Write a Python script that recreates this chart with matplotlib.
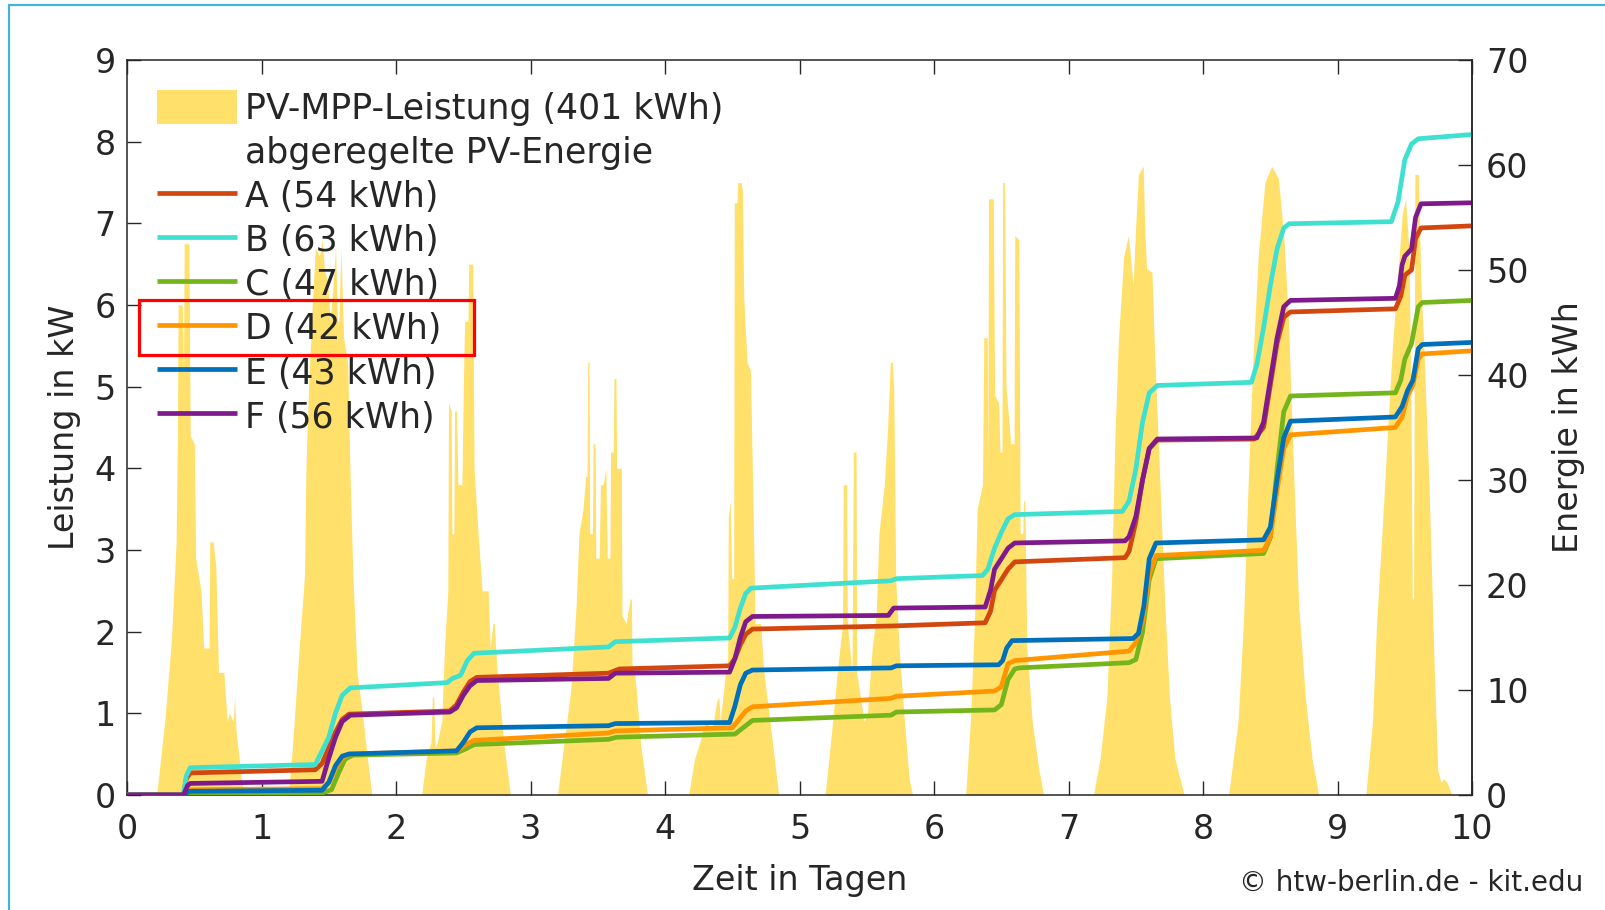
import numpy as np
import matplotlib.pyplot as plt
from matplotlib.patches import Patch, Rectangle
from matplotlib.lines import Line2D

pv_day0 = [(0.22, 0), (0.28, 0.9), (0.33, 1.9), (0.365, 3.1), (0.375, 4.5), (0.38, 6.0), (0.41, 6.0), (0.42, 5.2),
           (0.425, 6.75), (0.46, 6.75), (0.47, 4.4), (0.50, 4.3), (0.51, 2.9), (0.55, 2.5), (0.57, 1.8), (0.61, 1.8),
           (0.615, 3.1), (0.64, 3.1), (0.66, 2.8), (0.68, 1.5), (0.72, 1.5), (0.745, 0.9), (0.76, 1.0), (0.79, 0.9),
           (0.80, 1.2), (0.81, 0.8), (0.85, 0.2), (0.87, 0)]
pv_day1 = [(1.20, 0), (1.23, 0.6), (1.28, 1.8), (1.32, 2.7), (1.33, 4.0), (1.35, 5.0), (1.38, 6.1), (1.40, 6.7),
           (1.43, 6.6), (1.45, 6.8), (1.47, 6.4), (1.49, 6.3), (1.51, 5.8), (1.53, 6.2), (1.55, 6.7), (1.565, 5.8),
           (1.575, 5.8), (1.59, 6.7), (1.61, 5.6), (1.64, 5.3), (1.66, 3.8), (1.68, 2.65), (1.71, 1.5), (1.75, 1.0),
           (1.78, 0.55), (1.82, 0)]
pv_day2 = [(2.19, 0), (2.225, 0.45), (2.26, 0.65), (2.27, 1.2), (2.28, 1.2), (2.29, 0.6), (2.30, 0.6), (2.34, 0.9),
           (2.36, 1.8), (2.385, 2.5), (2.39, 4.8), (2.41, 4.7), (2.415, 3.2), (2.43, 3.2), (2.435, 4.7), (2.45, 4.7),
           (2.46, 3.8), (2.49, 3.8), (2.50, 5.0), (2.51, 5.8), (2.535, 5.8), (2.54, 6.5), (2.57, 6.5), (2.58, 4.0),
           (2.61, 3.2), (2.64, 2.5), (2.685, 2.5), (2.70, 1.8), (2.72, 2.1), (2.73, 2.1), (2.75, 1.55), (2.80, 0.65),
           (2.85, 0)]
pv_day3 = [(3.20, 0), (3.25, 0.65), (3.30, 1.3), (3.34, 2.35), (3.36, 3.2), (3.39, 3.5), (3.41, 3.9), (3.42, 3.9),
           (3.425, 5.3), (3.435, 5.3), (3.44, 3.2), (3.46, 3.2), (3.465, 4.3), (3.48, 4.3), (3.485, 2.9), (3.51, 2.9),
           (3.52, 3.8), (3.54, 3.8), (3.56, 4.0), (3.57, 2.9), (3.59, 2.9), (3.595, 4.2), (3.615, 4.2), (3.62, 5.1),
           (3.635, 5.1), (3.64, 4.0), (3.675, 4.0), (3.68, 2.2), (3.71, 2.1), (3.74, 2.4), (3.75, 2.4), (3.755, 1.5),
           (3.775, 1.5), (3.82, 0.6), (3.87, 0)]
pv_day4 = [(4.175, 0), (4.22, 0.45), (4.26, 0.65), (4.30, 0.9), (4.35, 0.8), (4.385, 1.15), (4.40, 1.2), (4.41, 0.9),
           (4.45, 1.5), (4.465, 1.5), (4.47, 3.4), (4.485, 3.6), (4.495, 2.65), (4.51, 2.65), (4.515, 7.25),
           (4.535, 7.25), (4.54, 7.5), (4.565, 7.5), (4.575, 7.4), (4.585, 6.1), (4.61, 5.3), (4.635, 5.2),
           (4.65, 3.9), (4.67, 2.1), (4.71, 2.1), (4.735, 1.5), (4.78, 0.9), (4.845, 0)]
pv_day5 = [(5.19, 0), (5.24, 0.8), (5.28, 1.5), (5.32, 2.1), (5.325, 3.8), (5.35, 3.8), (5.355, 2.1), (5.39, 1.5),
           (5.40, 4.2), (5.42, 4.2), (5.425, 1.5), (5.48, 0.9), (5.505, 1.0), (5.54, 1.8), (5.57, 2.2), (5.59, 3.2),
           (5.63, 3.8), (5.655, 4.5), (5.675, 5.3), (5.69, 5.3), (5.70, 5.0), (5.715, 2.65), (5.74, 1.8),
           (5.78, 0.9), (5.815, 0.2), (5.84, 0)]
pv_day6 = [(6.235, 0), (6.27, 0.9), (6.30, 2.1), (6.32, 3.5), (6.36, 3.8), (6.37, 5.6), (6.395, 5.6), (6.40, 4.0),
           (6.405, 7.3), (6.44, 7.3), (6.45, 4.9), (6.48, 4.8), (6.49, 4.2), (6.505, 4.2), (6.51, 7.5), (6.525, 7.5),
           (6.535, 5.0), (6.57, 4.3), (6.595, 4.3), (6.60, 6.85), (6.63, 6.8), (6.64, 3.2), (6.66, 3.2),
           (6.665, 3.6), (6.675, 3.6), (6.69, 1.8), (6.73, 0.9), (6.78, 0.3), (6.815, 0)]
pv_day7 = [(7.185, 0), (7.235, 0.45), (7.285, 1.2), (7.32, 2.65), (7.345, 4.4), (7.37, 5.55), (7.41, 6.6),
           (7.445, 6.85), (7.48, 6.25), (7.50, 7.0), (7.52, 7.6), (7.555, 7.7), (7.565, 7.0), (7.58, 6.45),
           (7.62, 6.4), (7.64, 5.4), (7.68, 3.8), (7.715, 2.35), (7.75, 1.2), (7.79, 0.45), (7.86, 0)]
pv_day8 = [(8.19, 0), (8.26, 0.9), (8.30, 2.1), (8.335, 3.8), (8.37, 5.3), (8.41, 6.6), (8.46, 7.5), (8.51, 7.7),
           (8.56, 7.55), (8.60, 6.85), (8.635, 5.8), (8.67, 4.1), (8.71, 2.35), (8.76, 1.2), (8.81, 0.45), (8.86, 0)]
pv_day9 = [(9.21, 0), (9.26, 0.9), (9.29, 2.1), (9.33, 3.2), (9.37, 4.4), (9.41, 5.55), (9.45, 6.4), (9.48, 7.1),
           (9.505, 7.3), (9.53, 6.7), (9.545, 5.0), (9.555, 2.4), (9.565, 2.4), (9.575, 7.6), (9.60, 7.6),
           (9.62, 6.25), (9.64, 5.55), (9.68, 3.8), (9.72, 1.5), (9.745, 0.3), (9.77, 0.15), (9.79, 0.2),
           (9.815, 0.15), (9.85, 0)]

# curtailed PV energy in kWh, (day, kWh)
A_pts = [(0, 0), (0.42, 0), (0.44, 1.5), (0.47, 2.1), (1.40, 2.4), (1.45, 3.0), (1.50, 4.5), (1.55, 6.0), (1.60, 7.2),
         (1.65, 7.7), (2.40, 8.0), (2.45, 8.6), (2.50, 9.8), (2.55, 10.8), (2.60, 11.2), (3.58, 11.6), (3.62, 11.8),
         (3.66, 12.0), (4.48, 12.3), (4.52, 13.0), (4.56, 14.3), (4.60, 15.3), (4.65, 15.8), (5.70, 16.1),
         (6.38, 16.4), (6.42, 17.5), (6.45, 19.5), (6.50, 20.5), (6.55, 21.5), (6.60, 22.2), (7.42, 22.6),
         (7.45, 23.2), (7.50, 26.0), (7.55, 30.0), (7.60, 33.0), (7.66, 33.8), (8.38, 33.9), (8.45, 35.0),
         (8.50, 39.0), (8.55, 43.0), (8.60, 45.5), (8.65, 46.0), (9.43, 46.3), (9.47, 47.5), (9.50, 49.5),
         (9.55, 50.0), (9.58, 53.0), (9.62, 54.0), (10, 54.2)]
B_pts = [(0, 0), (0.42, 0), (0.44, 1.8), (0.47, 2.6), (1.40, 2.9), (1.45, 4.2), (1.50, 5.5), (1.55, 7.8), (1.60, 9.5),
         (1.66, 10.2), (2.38, 10.7), (2.42, 11.1), (2.48, 11.4), (2.53, 12.8), (2.58, 13.5), (3.58, 14.1),
         (3.63, 14.6), (4.48, 14.95), (4.52, 16.0), (4.56, 17.8), (4.60, 19.2), (4.64, 19.7), (5.68, 20.4),
         (5.72, 20.6), (6.36, 20.9), (6.40, 21.5), (6.45, 23.5), (6.50, 25.0), (6.55, 26.3), (6.60, 26.7),
         (7.40, 27.0), (7.45, 28.0), (7.50, 31.0), (7.55, 35.5), (7.60, 38.3), (7.66, 39.0), (8.36, 39.3),
         (8.40, 41.0), (8.45, 44.5), (8.50, 48.5), (8.55, 52.0), (8.60, 54.0), (8.64, 54.4), (9.40, 54.6),
         (9.45, 56.5), (9.50, 60.5), (9.55, 62.0), (9.60, 62.5), (10, 62.9)]
C_pts = [(0, 0), (0.42, 0), (0.47, 0.15), (1.45, 0.2), (1.52, 0.5), (1.57, 2.0), (1.62, 3.4), (1.68, 3.8), (2.45, 4.0),
         (2.52, 4.4), (2.58, 4.8), (3.58, 5.3), (3.64, 5.5), (4.52, 5.8), (4.58, 6.4), (4.65, 7.1), (5.68, 7.6),
         (5.72, 7.9), (6.45, 8.1), (6.50, 8.6), (6.55, 11.0), (6.60, 12.0), (6.63, 12.1), (7.45, 12.6), (7.50, 12.9),
         (7.55, 15.5), (7.60, 20.5), (7.65, 22.5), (8.45, 23.0), (8.50, 24.5), (8.55, 31.0), (8.60, 36.5),
         (8.65, 38.0), (9.43, 38.3), (9.47, 39.5), (9.50, 41.5), (9.55, 43.0), (9.60, 46.5), (9.63, 46.9),
         (10, 47.1)]
D_pts = [(0, 0), (0.42, 0), (0.46, 0.5), (1.45, 0.6), (1.50, 1.2), (1.55, 2.5), (1.60, 3.5), (1.65, 3.9), (2.45, 4.2),
         (2.52, 4.8), (2.58, 5.2), (3.58, 5.9), (3.63, 6.1), (4.50, 6.4), (4.55, 7.2), (4.60, 8.0), (4.65, 8.4),
         (5.68, 9.2), (5.72, 9.4), (6.45, 9.9), (6.50, 10.3), (6.55, 12.5), (6.60, 12.8), (7.45, 13.7), (7.50, 14.5),
         (7.55, 16.5), (7.60, 21.0), (7.65, 22.8), (8.45, 23.3), (8.50, 24.5), (8.55, 29.0), (8.60, 33.0),
         (8.65, 34.3), (9.43, 35.0), (9.48, 36.0), (9.52, 38.0), (9.56, 39.0), (9.60, 41.5), (9.63, 42.0),
         (10, 42.3)]
E_pts = [(0, 0), (0.42, 0), (0.46, 0.35), (1.45, 0.45), (1.50, 1.2), (1.55, 2.8), (1.60, 3.7), (1.65, 3.9),
         (2.45, 4.2), (2.50, 5.0), (2.55, 6.0), (2.60, 6.4), (3.58, 6.6), (3.63, 6.8), (4.48, 6.9), (4.52, 8.5),
         (4.56, 10.5), (4.60, 11.6), (4.65, 11.9), (5.68, 12.1), (5.72, 12.3), (6.48, 12.4), (6.51, 12.8),
         (6.54, 14.0), (6.58, 14.7), (7.48, 14.9), (7.52, 15.4), (7.56, 18.0), (7.60, 22.5), (7.65, 24.0),
         (8.45, 24.3), (8.50, 25.5), (8.55, 30.0), (8.60, 34.0), (8.65, 35.6), (9.43, 36.0), (9.48, 37.0),
         (9.52, 38.5), (9.56, 39.5), (9.60, 42.5), (9.63, 42.9), (10, 43.1)]
F_pts = [(0, 0), (0.42, 0), (0.45, 0.9), (0.47, 1.1), (1.45, 1.3), (1.50, 3.5), (1.55, 5.5), (1.60, 7.0), (1.66, 7.6),
         (2.40, 7.9), (2.45, 8.3), (2.50, 9.5), (2.55, 10.4), (2.60, 10.9), (3.58, 11.1), (3.63, 11.6), (4.48, 11.7),
         (4.52, 13.0), (4.56, 15.0), (4.60, 16.5), (4.65, 17.0), (5.66, 17.1), (5.70, 17.8), (6.38, 17.9),
         (6.42, 19.5), (6.45, 21.5), (6.50, 22.5), (6.55, 23.5), (6.60, 24.0), (7.42, 24.2), (7.45, 24.6),
         (7.50, 26.5), (7.55, 30.0), (7.60, 33.0), (7.66, 33.9), (8.40, 34.0), (8.45, 35.5), (8.50, 39.5),
         (8.55, 43.5), (8.60, 46.5), (8.65, 47.1), (9.43, 47.3), (9.46, 48.5), (9.48, 50.5), (9.50, 51.3),
         (9.55, 52.0), (9.58, 55.0), (9.62, 56.3), (10, 56.4)]

series_names = ["A", "B", "C", "D", "E", "F"]
series_kwh = [54, 63, 47, 42, 43, 56]
pv_total = 401

pv_color = "#FFE06B"
colors = ["#D2470F", "#40E0D0", "#74B51C", "#FF9600", "#0070BA", "#7E1A8C"]
txt = "#262626"

plt.rcParams["font.family"] = "DejaVu Sans"

pv = [(0, 0)]
for d in [pv_day0, pv_day1, pv_day2, pv_day3, pv_day4, pv_day5, pv_day6, pv_day7, pv_day8, pv_day9]:
    pv += d
pv.append((10, 0))
pv = np.array(pv)

fig = plt.figure(figsize=(16.06, 9.10), dpi=100)
ax = fig.add_axes([0.0791, 0.1264, 0.8375, 0.8077])
ax.fill_between(pv[:, 0], pv[:, 1], color=pv_color, linewidth=0)
ax.set_xlim(0, 10)
ax.set_ylim(0, 9)
ax.set_xticks(range(11))
ax.set_yticks(range(10))

ax2 = ax.twinx()
lines = []
for pts, c in zip([A_pts, B_pts, C_pts, D_pts, E_pts, F_pts], colors):
    p = np.array(pts)
    l, = ax2.plot(p[:, 0], p[:, 1], color=c, lw=3.4, solid_capstyle="butt")
    lines.append(l)
ax2.set_ylim(0, 70)
ax2.set_yticks(range(0, 80, 10))

for a in [ax, ax2]:
    for s in a.spines.values():
        s.set_color(txt)
        s.set_linewidth(1.1)
for s in ["left", "top", "bottom"]:
    ax2.spines[s].set_visible(False)

ax.tick_params(axis="both", direction="in", length=10, width=1.0, top=True, right=False,
               labelsize=24, colors=txt)
ax.tick_params(axis="x", pad=13)
ax.tick_params(axis="y", pad=8)
ax2.tick_params(axis="y", direction="in", length=10, width=1.0, labelsize=24, colors=txt, pad=10)

ax.set_xlabel("Zeit in Tagen", fontsize=24, color=txt)
ax.set_ylabel("Leistung in kW", fontsize=24, color=txt)
ax2.set_ylabel("Energie in kWh", fontsize=24, color=txt)
ax.xaxis.set_label_coords(0.5, -0.094)
ax.yaxis.set_label_coords(-0.034, 0.5)
ax2.yaxis.set_label_coords(1.0595, 0.5)

handles = [Patch(facecolor=pv_color, edgecolor="none"), Line2D([], [], color="none")] + lines
labels = ["PV-MPP-Leistung (%d kWh)" % pv_total, "abgeregelte PV-Energie"] + \
         ["%s (%d kWh)" % (n, v) for n, v in zip(series_names, series_kwh)]
leg = ax2.legend(handles, labels, loc="upper left", bbox_to_anchor=(0.0223, 0.9595), frameon=False,
                 fontsize=25, handlelength=2.3, handleheight=1.15, handletextpad=0.24,
                 labelspacing=0.235, borderpad=0, borderaxespad=0)
for t in leg.get_texts():
    t.set_color(txt)

# red box around D entry and the light blue frame
W, H = 1606, 910
fig.add_artist(Rectangle((139 / W, 1 - 355 / H), (474 - 139) / W, 55 / H, transform=fig.transFigure,
                         fill=False, edgecolor="#FF0000", linewidth=2.3))
fig.add_artist(Rectangle((9 / W, -0.1), 1.2, 1 - 5 / H + 0.1, transform=fig.transFigure,
                         fill=False, edgecolor="#45B3D8", linewidth=1.6))

fig.text(1583 / W, 1 - 891 / H, "\u00a9 htw-berlin.de - kit.edu", fontsize=20, color=txt,
         ha="right", va="baseline")

fig.savefig("out.png", dpi=100)
